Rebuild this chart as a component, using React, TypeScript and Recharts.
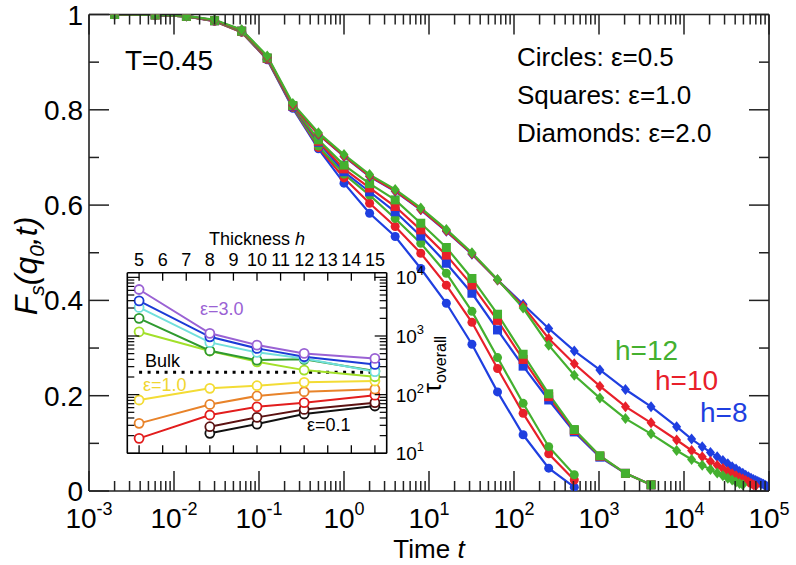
import React from "react";
import { LineChart, Line, XAxis, YAxis, ReferenceLine } from "recharts";

const FONT = '"Liberation Sans", Arial, Helvetica, sans-serif';
const INK = "#222";

const BLUE = "#1f3fe0";
const RED = "#e8202a";
const GREEN = "#44b02f";

// ---- main panel: F_s(q0,t) against time ----
const tCircles = [0.002, 0.006, 0.014, 0.03, 0.0625, 0.125, 0.25, 0.5, 1, 2, 4, 8, 16, 32, 64, 128, 256, 512];
const tSquares = [0.002, 0.006, 0.014, 0.03, 0.0625, 0.125, 0.25, 0.5, 1, 2, 4, 8, 16, 32, 64, 128, 256, 512, 1024, 2048, 4096];
const tDiamondsH8 = [
  0.002, 0.006, 0.014, 0.03, 0.0625, 0.125, 0.25, 0.5, 1, 2, 4, 8, 16, 32, 64, 128, 256, 512, 1024, 2048, 4096,
  8192, 12288, 16384, 20480, 24576, 28672, 32768, 36864, 40960, 45056, 49152, 53248, 57344, 61440, 65536, 69632,
  73728, 77824, 81920, 86016, 90112, 94208,
];
const tDiamondsH10 = [
  0.002, 0.006, 0.014, 0.03, 0.0625, 0.125, 0.25, 0.5, 1, 2, 4, 8, 16, 32, 64, 128, 256, 512, 1024, 2048, 4096,
  8192, 12288, 16384, 20480, 24576, 28672, 32768, 36864, 40960, 45056, 49152, 53248, 57344, 61440, 65536, 69632,
];
const tDiamondsH12 = [
  0.002, 0.006, 0.014, 0.03, 0.0625, 0.125, 0.25, 0.5, 1, 2, 4, 8, 16, 32, 64, 128, 256, 512, 1024, 2048, 4096,
  8192, 12288, 16384, 20480, 24576, 28672, 32768, 36864, 40960, 45056, 49152,
];

// circles: eps = 0.5
const fCirclesH8 = [1.0, 0.999, 0.996, 0.986, 0.963, 0.905, 0.803, 0.718, 0.646, 0.583, 0.534, 0.467, 0.394, 0.308, 0.208, 0.118, 0.048, 0.008];
const fCirclesH10 = [1.0, 0.999, 0.996, 0.986, 0.963, 0.906, 0.805, 0.721, 0.657, 0.604, 0.555, 0.499, 0.432, 0.354, 0.257, 0.163, 0.078, 0.023];
const fCirclesH12 = [1.0, 0.999, 0.996, 0.987, 0.964, 0.907, 0.806, 0.724, 0.665, 0.621, 0.572, 0.52, 0.457, 0.377, 0.28, 0.184, 0.093, 0.034];

// squares: eps = 1.0
const fSquaresH8 = [1.0, 0.999, 0.996, 0.987, 0.965, 0.908, 0.807, 0.732, 0.67, 0.628, 0.586, 0.535, 0.478, 0.415, 0.338, 0.262, 0.191, 0.124, 0.071, 0.037, 0.013];
const fSquaresH10 = [1.0, 0.999, 0.996, 0.987, 0.965, 0.908, 0.808, 0.734, 0.676, 0.636, 0.597, 0.548, 0.495, 0.432, 0.358, 0.276, 0.198, 0.127, 0.073, 0.037, 0.013];
const fSquaresH12 = [1.0, 0.999, 0.996, 0.987, 0.965, 0.909, 0.809, 0.737, 0.684, 0.645, 0.611, 0.562, 0.511, 0.446, 0.371, 0.287, 0.204, 0.129, 0.074, 0.037, 0.013];

// diamonds: eps = 2.0
const fDiamondsH8 = [
  1.0, 0.999, 0.997, 0.988, 0.967, 0.911, 0.81, 0.748, 0.702, 0.66, 0.629, 0.59, 0.545, 0.497, 0.443, 0.392, 0.341,
  0.294, 0.254, 0.213, 0.177, 0.135, 0.109, 0.093, 0.081, 0.072, 0.064, 0.057, 0.051, 0.046, 0.041, 0.037, 0.033,
  0.03, 0.027, 0.024, 0.022, 0.02, 0.018, 0.016, 0.014, 0.012, 0.01,
];
const fDiamondsH10 = [
  1.0, 0.999, 0.997, 0.988, 0.967, 0.911, 0.81, 0.749, 0.703, 0.661, 0.63, 0.591, 0.546, 0.498, 0.443, 0.388, 0.32,
  0.267, 0.22, 0.177, 0.143, 0.107, 0.085, 0.072, 0.062, 0.054, 0.047, 0.041, 0.036, 0.032, 0.028, 0.025, 0.022,
  0.019, 0.016, 0.013, 0.011,
];
const fDiamondsH12 = [
  1.0, 0.999, 0.997, 0.989, 0.968, 0.913, 0.813, 0.752, 0.706, 0.664, 0.633, 0.594, 0.549, 0.5, 0.444, 0.384, 0.306,
  0.243, 0.195, 0.152, 0.12, 0.085, 0.066, 0.054, 0.045, 0.038, 0.032, 0.027, 0.023, 0.019, 0.016, 0.013,
];

const xMajorTicks = [1e-3, 1e-2, 1e-1, 1, 10, 100, 1000, 1e4, 1e5];
const yMainTicks = [0, 0.1, 0.2, 0.3, 0.4, 0.5, 0.6, 0.7, 0.8, 0.9, 1];

// ---- inset: tau_overall against film thickness ----
const hAll = [5, 8, 10, 12, 15];
const hFrom8 = [8, 10, 12, 15];
const hTicks = [5, 6, 7, 8, 9, 10, 11, 12, 13, 14, 15];
const tauMajorTicks = [10, 100, 1000, 10000];

const tauPurple = [6200, 1110, 700, 505, 415]; // eps = 3.0
const tauBlue = [3980, 968, 615, 443, 328];
const tauCyan = [3070, 778, 526, 415, 246];
const tauGreen = [2000, 560, 388, 400, 252];
const tauLime = [1180, 555, 363, 262, 202];
const tauYellow = [81, 128, 142, 162, 171]; // eps = 1.0
const tauOrange = [32.4, 68, 95, 112, 124];
const tauRed = [18, 45, 62, 73, 98];
const tauMaroon = [28.4, 41, 56, 73];
const tauBlack = [21.9, 31.5, 46.8, 64]; // eps = 0.1
const tauBulk = 240;

const minorLog = (majors: number[]) =>
  majors.slice(0, -1).flatMap((d) => [2, 3, 4, 5, 6, 7, 8, 9].map((k) => k * d));
const xMainTicks = [...xMajorTicks, ...minorLog(xMajorTicks)];
const tauTicks = [...tauMajorTicks, ...minorLog(tauMajorTicks)];

const isDecade = (v: number) => Math.abs(Math.log10(v) - Math.round(Math.log10(v))) < 1e-6;
const zip = (xs: number[], ys: number[], kx: string, ky: string) =>
  xs.map((x, i) => ({ [kx]: x, [ky]: ys[i] }));

// markers
const circleDot = (color: string, id: string) => (p: any) =>
  p.cx == null ? <g key={`${id}-${p.index}`} /> : <circle key={`${id}-${p.index}`} cx={p.cx} cy={p.cy} r={4.5} fill={color} />;
const squareDot = (color: string, id: string) => (p: any) =>
  p.cx == null ? <g key={`${id}-${p.index}`} /> : (
    <rect key={`${id}-${p.index}`} x={p.cx - 4.5} y={p.cy - 4.5} width={9} height={9} fill={color} />
  );
const diamondDot = (color: string, id: string) => (p: any) =>
  p.cx == null ? <g key={`${id}-${p.index}`} /> : (
    <polygon
      key={`${id}-${p.index}`}
      points={`${p.cx},${p.cy - 5.5} ${p.cx + 4.5},${p.cy} ${p.cx},${p.cy + 5.5} ${p.cx - 4.5},${p.cy}`}
      fill={color}
    />
  );

const mainSeries = [
  { id: "c8", t: tCircles, f: fCirclesH8, color: BLUE, dot: circleDot },
  { id: "c10", t: tCircles, f: fCirclesH10, color: RED, dot: circleDot },
  { id: "c12", t: tCircles, f: fCirclesH12, color: GREEN, dot: circleDot },
  { id: "s8", t: tSquares, f: fSquaresH8, color: BLUE, dot: squareDot },
  { id: "s10", t: tSquares, f: fSquaresH10, color: RED, dot: squareDot },
  { id: "s12", t: tSquares, f: fSquaresH12, color: GREEN, dot: squareDot },
  { id: "d8", t: tDiamondsH8, f: fDiamondsH8, color: BLUE, dot: diamondDot },
  { id: "d10", t: tDiamondsH10, f: fDiamondsH10, color: RED, dot: diamondDot },
  { id: "d12", t: tDiamondsH12, f: fDiamondsH12, color: GREEN, dot: diamondDot },
];

const insetSeries = [
  { id: "k", h: hFrom8, tau: tauBlack, color: "#111111" },
  { id: "m", h: hFrom8, tau: tauMaroon, color: "#5c1212" },
  { id: "r", h: hAll, tau: tauRed, color: "#e21d1d" },
  { id: "o", h: hAll, tau: tauOrange, color: "#e8832a" },
  { id: "y", h: hAll, tau: tauYellow, color: "#f3dc35" },
  { id: "l", h: hAll, tau: tauLime, color: "#a2e02a" },
  { id: "g", h: hAll, tau: tauGreen, color: "#2f9a2f" },
  { id: "c", h: hAll, tau: tauCyan, color: "#72e0dc" },
  { id: "b", h: hAll, tau: tauBlue, color: "#1b3bd6" },
  { id: "p", h: hAll, tau: tauPurple, color: "#9a62d4" },
];

const frame = { stroke: INK, strokeWidth: 1.6 };
const insetFrame = { stroke: "#000", strokeWidth: 1.6 };

// ---- tick renderers (ticks point inwards) ----
const MainXTick = (p: any) => {
  const { x, y, payload, side } = p;
  const v = payload.value;
  const major = isDecade(v);
  const dir = side === "bottom" ? -1 : 1;
  return (
    <g>
      <line x1={x} x2={x} y1={y} y2={y + dir * (major ? 20 : 10)} stroke={INK} strokeWidth={1.5} />
      {side === "bottom" && major ? (
        <text x={x} y={y + 37} textAnchor="middle" fontFamily={FONT} fontSize={28} fill="#000">
          10
          <tspan fontSize={18} dy={-13}>
            {Math.round(Math.log10(v))}
          </tspan>
        </text>
      ) : null}
    </g>
  );
};

const MainYTick = (p: any) => {
  const { x, y, payload, side } = p;
  const v = payload.value;
  const major = Math.round(v * 10) % 2 === 0;
  const dir = side === "left" ? 1 : -1;
  const label = v === 0 ? "0" : v === 1 ? "1" : v.toFixed(1);
  return (
    <g>
      <line x1={x} x2={x + dir * (major ? 20 : 10)} y1={y} y2={y} stroke={INK} strokeWidth={1.5} />
      {side === "left" && major ? (
        <text x={x - 6} y={y + 10} textAnchor="end" fontFamily={FONT} fontSize={28} fill="#000">
          {label}
        </text>
      ) : null}
    </g>
  );
};

const InsetXTick = (p: any) => {
  const { x, y, payload, side } = p;
  const dir = side === "bottom" ? -1 : 1;
  return (
    <g>
      <line x1={x} x2={x} y1={y} y2={y + dir * 8} stroke="#000" strokeWidth={1.3} />
      {side === "top" ? (
        <text x={x} y={y - 6.5} textAnchor="middle" fontFamily={FONT} fontSize={18} fill="#000">
          {payload.value}
        </text>
      ) : null}
    </g>
  );
};

const InsetYTick = (p: any) => {
  const { x, y, payload, side } = p;
  const v = payload.value;
  const major = isDecade(v);
  const dir = side === "left" ? 1 : -1;
  return (
    <g>
      <line x1={x} x2={x + dir * (major ? 12 : 7)} y1={y} y2={y} stroke="#000" strokeWidth={1.2} />
      {side === "right" && major ? (
        <text x={x + 9} y={y + 7} fontFamily={FONT} fontSize={19} fill="#000">
          10
          <tspan fontSize={13} dy={-9}>
            {Math.round(Math.log10(v))}
          </tspan>
        </text>
      ) : null}
    </g>
  );
};

// axes get a 1px band: recharts skips axes with zero size
const MainChart = () => (
  <LineChart width={796} height={565} margin={{ top: 13.5, right: 26, bottom: 73, left: 88 }}>
    <XAxis
      xAxisId="b"
      type="number"
      dataKey="t"
      scale="log"
      domain={[1e-3, 1e5]}
      allowDataOverflow
      ticks={xMainTicks}
      interval={0}
      height={1}
      tickSize={0}
      tickMargin={0}
      tickLine={false}
      axisLine={frame}
      tick={(p: any) => <MainXTick {...p} side="bottom" />}
    />
    <XAxis
      xAxisId="t"
      orientation="top"
      type="number"
      dataKey="t"
      scale="log"
      domain={[1e-3, 1e5]}
      allowDataOverflow
      ticks={xMainTicks}
      interval={0}
      height={1}
      tickSize={0}
      tickMargin={0}
      tickLine={false}
      axisLine={frame}
      tick={(p: any) => <MainXTick {...p} side="top" />}
    />
    <YAxis
      yAxisId="l"
      type="number"
      domain={[0, 1]}
      allowDataOverflow
      ticks={yMainTicks}
      interval={0}
      width={1}
      tickSize={0}
      tickMargin={0}
      tickLine={false}
      axisLine={frame}
      tick={(p: any) => <MainYTick {...p} side="left" />}
    />
    <YAxis
      yAxisId="r"
      orientation="right"
      type="number"
      domain={[0, 1]}
      allowDataOverflow
      ticks={yMainTicks}
      interval={0}
      width={1}
      tickSize={0}
      tickMargin={0}
      tickLine={false}
      axisLine={frame}
      tick={(p: any) => <MainYTick {...p} side="right" />}
    />
    {mainSeries.map((s) => (
      <Line
        key={s.id}
        xAxisId="b"
        yAxisId="l"
        data={zip(s.t, s.f, "t", "F")}
        dataKey="F"
        type="linear"
        stroke={s.color}
        strokeWidth={2.2}
        dot={s.dot(s.color, s.id)}
        activeDot={false}
        isAnimationActive={false}
      />
    ))}
    {/* keeps the mirrored top/right axes bound to data */}
    <Line
      xAxisId="t"
      yAxisId="r"
      data={zip(tCircles, fCirclesH8, "t", "F")}
      dataKey="F"
      stroke="none"
      dot={false}
      activeDot={false}
      isAnimationActive={false}
    />
  </LineChart>
);

const INSET = { left: 127.3, top: 272.7, right: 386.7, bottom: 453.3 };

const InsetChart = () => (
  <LineChart
    width={796}
    height={565}
    margin={{
      top: INSET.top - 1,
      right: 796 - INSET.right - 1,
      bottom: 565 - INSET.bottom - 1,
      left: INSET.left - 1,
    }}
  >
    <XAxis
      xAxisId="top"
      orientation="top"
      type="number"
      dataKey="h"
      domain={[4.5, 15.5]}
      allowDataOverflow
      ticks={hTicks}
      interval={0}
      height={1}
      tickSize={0}
      tickMargin={0}
      tickLine={false}
      axisLine={insetFrame}
      tick={(p: any) => <InsetXTick {...p} side="top" />}
    />
    <XAxis
      xAxisId="bottom"
      type="number"
      dataKey="h"
      domain={[4.5, 15.5]}
      allowDataOverflow
      ticks={hTicks}
      interval={0}
      height={1}
      tickSize={0}
      tickMargin={0}
      tickLine={false}
      axisLine={insetFrame}
      tick={(p: any) => <InsetXTick {...p} side="bottom" />}
    />
    <YAxis
      yAxisId="right"
      orientation="right"
      type="number"
      scale="log"
      domain={[10, 12000]}
      allowDataOverflow
      ticks={tauTicks}
      interval={0}
      width={1}
      tickSize={0}
      tickMargin={0}
      tickLine={false}
      axisLine={insetFrame}
      tick={(p: any) => <InsetYTick {...p} side="right" />}
    />
    <YAxis
      yAxisId="left"
      type="number"
      scale="log"
      domain={[10, 12000]}
      allowDataOverflow
      ticks={tauTicks}
      interval={0}
      width={1}
      tickSize={0}
      tickMargin={0}
      tickLine={false}
      axisLine={insetFrame}
      tick={(p: any) => <InsetYTick {...p} side="left" />}
    />
    <ReferenceLine
      xAxisId="top"
      yAxisId="right"
      segment={[
        { x: 5, y: tauBulk },
        { x: 15, y: tauBulk },
      ]}
      stroke="#000"
      strokeWidth={3}
      strokeDasharray="3 5.5"
    />
    {insetSeries.map((s) => (
      <Line
        key={s.id}
        xAxisId="top"
        yAxisId="right"
        data={zip(s.h, s.tau, "h", "tau")}
        dataKey="tau"
        type="linear"
        stroke={s.color}
        strokeWidth={2}
        dot={{ r: 4.5, stroke: s.color, strokeWidth: 1.8, fill: "#fff" }}
        activeDot={false}
        isAnimationActive={false}
      />
    ))}
    <Line
      xAxisId="bottom"
      yAxisId="left"
      data={zip(hAll, tauRed, "h", "tau")}
      dataKey="tau"
      stroke="none"
      dot={false}
      activeDot={false}
      isAnimationActive={false}
    />
  </LineChart>
);

const Annotations = () => (
  <svg
    width={796}
    height={565}
    style={{ position: "absolute", left: 0, top: 0, pointerEvents: "none" }}
    fontFamily={FONT}
  >
    <text x={125} y={70} fontSize={28}>T=0.45</text>
    <text x={517} y={66} fontSize={26}>Circles: ε=0.5</text>
    <text x={517} y={104} fontSize={26}>Squares: ε=1.0</text>
    <text x={517} y={142} fontSize={26}>Diamonds: ε=2.0</text>
    <text x={615} y={360} fontSize={28} fill={GREEN}>h=12</text>
    <text x={655} y={390} fontSize={28} fill={RED}>h=10</text>
    <text x={700} y={422} fontSize={28} fill={BLUE}>h=8</text>
    <text x={429} y={558} fontSize={26} textAnchor="middle">
      Time <tspan fontStyle="italic">t</tspan>
    </text>
    <text transform="translate(37,266) rotate(-90)" textAnchor="middle" fontSize={32} fontStyle="italic">
      F<tspan fontSize={21} dy={7}>s</tspan>
      <tspan dy={-7}>(q</tspan>
      <tspan fontSize={21} dy={7}>0</tspan>
      <tspan dy={-7}>,t)</tspan>
    </text>
    {/* inset annotations */}
    <text x={257} y={245} fontSize={18} textAnchor="middle">
      Thickness <tspan fontStyle="italic">h</tspan>
    </text>
    <text transform="translate(441,393) rotate(-90)" fontSize={25}>
      τ<tspan fontSize={16} dy={5}>overall</tspan>
    </text>
    <text x={200} y={315} fontSize={18} fill="#9a62d4">ε=3.0</text>
    <text x={145} y={367} fontSize={18}>Bulk</text>
    <text x={143} y={391} fontSize={18} fill="#f0d630">ε=1.0</text>
    <text x={307} y={431} fontSize={18}>ε=0.1</text>
  </svg>
);

export default function App() {
  return (
    <div style={{ position: "absolute", left: 0, top: 0, width: 796, height: 565, background: "#fff" }}>
      <div style={{ position: "absolute", left: 0, top: 0 }}>
        <MainChart />
      </div>
      <div
        style={{
          position: "absolute",
          left: INSET.left,
          top: INSET.top,
          width: INSET.right - INSET.left,
          height: INSET.bottom - INSET.top,
          background: "#fff",
        }}
      />
      <div style={{ position: "absolute", left: 0, top: 0 }}>
        <InsetChart />
      </div>
      <Annotations />
    </div>
  );
}
